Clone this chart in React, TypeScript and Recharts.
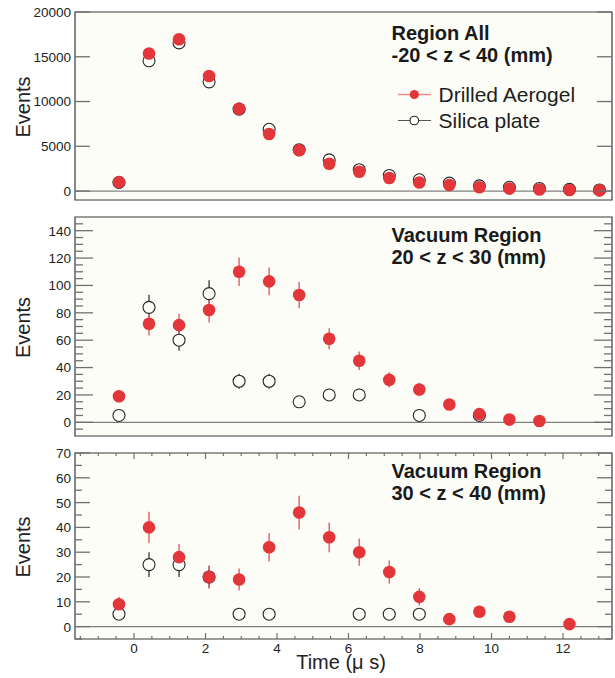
import React from 'react';
import { ScatterChart, Scatter, XAxis, YAxis, ErrorBar, ReferenceArea, ReferenceLine, CartesianGrid } from 'recharts';

// ---- data ----
const timeBins = [-0.42, 0.42, 1.26, 2.1, 2.94, 3.78, 4.62, 5.46, 6.3, 7.14, 7.98, 8.82, 9.66, 10.5, 11.34, 12.18, 13.02];

const drilledAll = [1000, 15370, 16950, 12850, 9200, 6380, 4560, 3050, 2150, 1450, 960, 670, 420, 270, 180, 120, 80];
const silicaAll = [960, 14550, 16550, 12200, 9150, 6900, 4620, 3480, 2380, 1740, 1260, 890, 580, 420, 290, 190, 120];

const drilledVac1 = [19, 72, 71, 82, 110, 103, 93, 61, 45, 31, 24, 13, 6, 2, 1, null, null];
const drilledVac1Err = [4.4, 8.5, 8.4, 9.1, 10.5, 10.1, 9.6, 7.8, 6.7, 5.6, 4.9, 3.6, 2.4, 1.4, 1, null, null];
const silicaVac1 = [5, 84, 60, 94, 30, 30, 15, 20, 20, null, 5, null, 5, null, null, null, null];
const silicaVac1Err = [2.2, 9.2, 7.7, 9.7, 5.5, 5.5, 3.9, 4.5, 4.5, null, 2.2, null, 2.2, null, null, null, null];

const drilledVac2 = [9, 40, 28, 20, 19, 32, 46, 36, 30, 22, 12, 3, 6, 4, null, 1, null];
const drilledVac2Err = [3, 6.3, 5.3, 4.5, 4.4, 5.7, 6.8, 6, 5.5, 4.7, 3.5, 1.7, 2.4, 2, null, 1, null];
const silicaVac2 = [5, 25, 25, 20, 5, 5, null, null, 5, 5, 5, null, null, null, null, null, null];
const silicaVac2Err = [2.2, 5, 5, 4.5, 2.2, 2.2, null, null, 2.2, 2.2, 2.2, null, null, null, null, null, null];

const xTicks = [-1.5, -1, -0.5, 0, 0.5, 1, 1.5, 2, 2.5, 3, 3.5, 4, 4.5, 5, 5.5, 6, 6.5, 7, 7.5, 8, 8.5, 9, 9.5, 10, 10.5, 11, 11.5, 12, 12.5, 13];
const xMajor = [0, 2, 4, 6, 8, 10, 12];

const yTicksAll = [0, 5000, 10000, 15000, 20000];
const yMajorAll = [0, 5000, 10000, 15000, 20000];
const yTicksVac1 = [-5, 0, 5, 10, 15, 20, 25, 30, 35, 40, 45, 50, 55, 60, 65, 70, 75, 80, 85, 90, 95, 100, 105, 110, 115, 120, 125, 130, 135, 140, 145];
const yMajorVac1 = [0, 20, 40, 60, 80, 100, 120, 140];
const yTicksVac2 = [-5, 0, 5, 10, 15, 20, 25, 30, 35, 40, 45, 50, 55, 60, 65, 70];
const yMajorVac2 = [0, 10, 20, 30, 40, 50, 60, 70];

const titleAll = ['Region All', '-20 < z < 40 (mm)'];
const titleVac1 = ['Vacuum Region', '20 < z < 30 (mm)'];
const titleVac2 = ['Vacuum Region', '30 < z < 40 (mm)'];
const seriesNames = ['Drilled Aerogel', 'Silica plate'];

// ---- style ----
const FONT = '"Liberation Sans", Arial, Helvetica, sans-serif';
const RED = '#e3363a';
const RED_ERR = '#e8676a';
const DARK = '#262626';
const BG = '#fdfdf7';
const TICK = '#707070';
const X_DOMAIN = [-1.65, 13.37];
const PLOT_W = 537;

function points(vals: (number | null)[], errs?: (number | null)[]) {
  const out: any[] = [];
  vals.forEach((v, i) => {
    if (v != null) out.push({ t: timeBins[i], v, e: errs ? errs[i] ?? 0 : 0 });
  });
  return out;
}

const redDot = (p: any) => <circle cx={p.cx} cy={p.cy} r={6.3} fill={RED} />;
const openDot = (p: any) => <circle cx={p.cx} cy={p.cy} r={6} fill={BG} stroke={DARK} strokeWidth={1.1} />;

function XTick(props: any) {
  const { x, y, payload, plotH, showLabel } = props;
  const v = payload.value;
  const major = xMajor.includes(v);
  const len = major ? 6 : 3;
  return (
    <g>
      <line x1={x} x2={x} y1={y} y2={y - len} stroke={TICK} strokeWidth={1.2} />
      <line x1={x} x2={x} y1={y - plotH} y2={y - plotH + len} stroke={TICK} strokeWidth={1.2} />
      {showLabel && major ? (
        <text x={x} y={y + 13.5} textAnchor="middle" fontSize={13.5} fontFamily={FONT} fill="#222">{v}</text>
      ) : null}
    </g>
  );
}

function YTick(props: any) {
  const { x, y, payload, majors, majorLen, minorLen } = props;
  const v = payload.value;
  const major = majors.includes(v);
  const len = major ? majorLen : minorLen;
  return (
    <g>
      <line x1={x} x2={x + len} y1={y} y2={y} stroke={TICK} strokeWidth={1.3} />
      <line x1={x + PLOT_W} x2={x + PLOT_W - len} y1={y} y2={y} stroke={TICK} strokeWidth={1.3} />
      {major ? (
        <text x={x - 4} y={y + 4.9} textAnchor="end" fontSize={13.5} fontFamily={FONT} fill="#222">{v}</text>
      ) : null}
    </g>
  );
}

function EventsLabel(props: any) {
  const vb = props.viewBox || { x: 0, y: 0, width: 75, height: 100 };
  const cy = vb.y + vb.height / 2 + 1;
  return (
    <text x={30} y={cy} transform={`rotate(-90, 30, ${cy})`} textAnchor="middle" fontSize={20} fontFamily={FONT} fill="#222">
      Events
    </text>
  );
}

function TimeLabel(props: any) {
  const vb = props.viewBox || { x: 75, y: 639, width: 537, height: 39 };
  return (
    <text x={vb.x + vb.width / 2 - 2.5} y={vb.y + 30} textAnchor="middle" fontSize={20} fontFamily={FONT} fill="#222">
      Time (μ s)
    </text>
  );
}

function Panel(props: any) {
  const { top, height, mTop, mBottom, xAxisH, yDomain, yTicks, yMajor, majorLen, minorLen, silica, drilled, showX, showSilicaErr, showDrilledErr } = props;
  const plotH = height - mTop - mBottom - xAxisH;
  return (
    <div style={{ position: 'absolute', left: 0, top, width: 615, height }}>
      <ScatterChart width={615} height={height} margin={{ top: mTop, right: 3, bottom: mBottom, left: 0 }}>
        <CartesianGrid horizontal={false} vertical={false} fill={BG} stroke="none" />
        <ReferenceArea x1={X_DOMAIN[0]} x2={X_DOMAIN[1]} y1={yDomain[0]} y2={yDomain[1]} fill="none" fillOpacity={0} stroke="#3a3a3a" strokeWidth={1.2} ifOverflow="visible" />
        <ReferenceLine y={0} stroke="#808080" strokeWidth={1.3} />
        <XAxis
          type="number"
          dataKey="t"
          domain={X_DOMAIN}
          allowDataOverflow
          ticks={xTicks}
          interval={0}
          height={xAxisH}
          tickSize={0}
          tickMargin={0}
          axisLine={false}
          tickLine={false}
          tick={(p: any) => <XTick {...p} plotH={plotH} showLabel={showX} />}
          label={showX ? <TimeLabel /> : undefined}
        />
        <YAxis
          type="number"
          dataKey="v"
          domain={yDomain}
          allowDataOverflow
          ticks={yTicks}
          interval={0}
          width={75}
          tickSize={0}
          tickMargin={0}
          axisLine={false}
          tickLine={false}
          tick={(p: any) => <YTick {...p} majors={yMajor} majorLen={majorLen} minorLen={minorLen} />}
          label={<EventsLabel />}
        />
        <Scatter name={seriesNames[1]} data={silica} shape={openDot} isAnimationActive={false}>
          {showSilicaErr ? <ErrorBar dataKey="e" direction="y" width={0} stroke={DARK} strokeWidth={1.2} /> : null}
        </Scatter>
        <Scatter name={seriesNames[0]} data={drilled} shape={redDot} isAnimationActive={false}>
          {showDrilledErr ? <ErrorBar dataKey="e" direction="y" width={0} stroke={RED_ERR} strokeWidth={1.5} /> : null}
        </Scatter>
      </ScatterChart>
    </div>
  );
}

function Title({ lines, x, y1, y2 }: any) {
  return (
    <g fontFamily={FONT} fontWeight="bold" fontSize={20} fill="#1a1a1a">
      <text x={x} y={y1}>{lines[0]}</text>
      <text x={x} y={y2}>{lines[1]}</text>
    </g>
  );
}

export default function App() {
  return (
    <div style={{ position: 'absolute', left: 0, top: 0, width: 615, height: 678, background: '#ffffff', fontFamily: FONT }}>
      <Panel top={0} height={210} mTop={12} mBottom={10} xAxisH={0} yDomain={[-1000, 20000]} yTicks={yTicksAll} yMajor={yMajorAll} majorLen={15} minorLen={7}
        silica={points(silicaAll)} drilled={points(drilledAll)} showX={false} showSilicaErr={false} showDrilledErr={false} />
      <Panel top={210} height={230} mTop={7} mBottom={4} xAxisH={0} yDomain={[-10, 150]} yTicks={yTicksVac1} yMajor={yMajorVac1} majorLen={18} minorLen={8}
        silica={points(silicaVac1, silicaVac1Err)} drilled={points(drilledVac1, drilledVac1Err)} showX={false} showSilicaErr showDrilledErr />
      <Panel top={440} height={238} mTop={13} mBottom={0} xAxisH={39} yDomain={[-5, 70]} yTicks={yTicksVac2} yMajor={yMajorVac2} majorLen={15} minorLen={7}
        silica={points(silicaVac2, silicaVac2Err)} drilled={points(drilledVac2, drilledVac2Err)} showX showSilicaErr showDrilledErr />
      <svg width={615} height={678} style={{ position: 'absolute', left: 0, top: 0, pointerEvents: 'none' }}>
        <Title lines={titleAll} x={391.5} y1={40} y2={62} />
        <Title lines={titleVac1} x={391.5} y1={241.7} y2={263.8} />
        <Title lines={titleVac2} x={391.5} y1={477.5} y2={500} />
        <g>
          <line x1={398} x2={431} y1={94.5} y2={94.5} stroke="#f08a8a" strokeWidth={1.5} />
          <circle cx={414.3} cy={94.5} r={4.6} fill={RED} />
          <text x={438.5} y={101.5} fontFamily={FONT} fontSize={21} fill="#1e1e1e">{seriesNames[0]}</text>
          <line x1={398} x2={431} y1={120.5} y2={120.5} stroke="#555" strokeWidth={1.2} />
          <circle cx={414.3} cy={120.5} r={4.3} fill="#fff" stroke={DARK} strokeWidth={1.1} />
          <text x={438.5} y={127.5} fontFamily={FONT} fontSize={21} fill="#1e1e1e">{seriesNames[1]}</text>
        </g>
      </svg>
    </div>
  );
}
